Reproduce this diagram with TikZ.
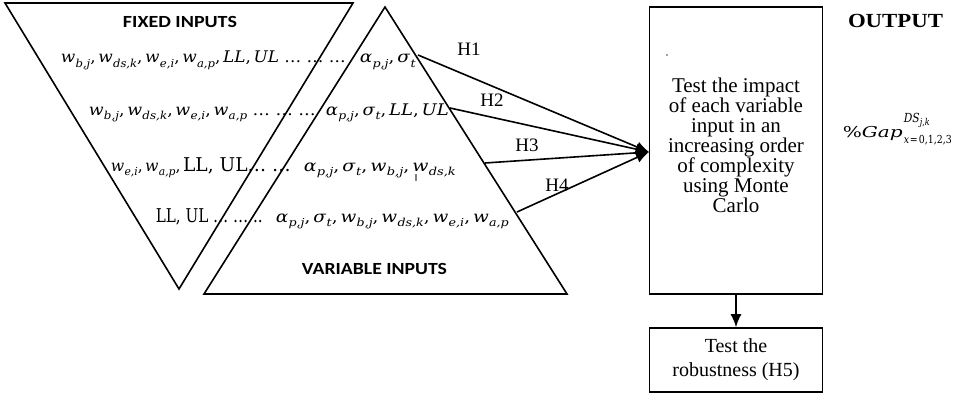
\documentclass[tikz,border=0pt]{standalone}
\usepackage{fontspec}
\setmainfont{Liberation Serif}
\newfontfamily\carlito{Carlito}
\newfontfamily\camfont{DejaVu Serif}
\usetikzlibrary{arrows.meta}
\newcommand\fitw[2]{\resizebox{#1}{\height}{#2}}
\newcommand\ws[2]{\textit{#1}\kern0.3pt\raisebox{-4.5pt}{\fontsize{11}{11}\selectfont\textit{#2}}}
\newcommand\sepc{,\kern2.5pt}
\newcommand\upr[1]{{\fontsize{19}{19}\selectfont #1}}
\begin{document}
\begin{tikzpicture}[x=1pt,y=-1pt, line width=1.6pt, line join=miter,
  mathline/.style={font=\camfont\fontsize{16}{18}\selectfont, inner sep=0pt, anchor=base west},
  hlab/.style={font=\fontsize{19}{20}\selectfont, inner sep=0pt},
  head/.style={font=\carlito\bfseries\fontsize{17}{18}\selectfont, inner sep=0pt},
  boxtext/.style={font=\fontsize{21}{20}\selectfont, align=center, inner sep=0pt},
  arr/.style={-{Latex[length=13pt,width=11pt]}}]
\useasboundingbox (0,0) rectangle (972,396);
% triangles
\draw (5,3) -- (353,3) -- (179,289) -- cycle;
\draw (385,7) -- (567,294) -- (204,294) -- cycle;
\node[head] (fixed) at (180,22) {\fitw{114pt}{FIXED INPUTS}};
\node[head] (var) at (374.5,269) {\fitw{145pt}{VARIABLE INPUTS}};
% input lines
\node[mathline] (l1a) at (60,63) {\fitw{285pt}{\ws{w}{b,j}\sepc\ws{w}{ds,k}\sepc\ws{w}{e,i}\sepc\ws{w}{a,p}\sepc\textit{LL}\sepc\textit{UL} … … …}};
\node[mathline] (l1b) at (359,63) {\fitw{56pt}{\ws{α}{p,j}\sepc\ws{σ}{t}}};
\node[mathline] (l2a) at (88,115) {\fitw{227pt}{\ws{w}{b,j}\sepc\ws{w}{ds,k}\sepc\ws{w}{e,i}\sepc\ws{w}{a,p} … … …}};
\node[mathline] (l2b) at (325,115) {\fitw{123pt}{\ws{α}{p,j}\sepc\ws{σ}{t}\sepc\textit{LL}\sepc\textit{UL}}};
\node[mathline] (l3a) at (110,171) {\fitw{180pt}{\ws{w}{e,i}\sepc\ws{w}{a,p}\sepc\upr{LL, UL… …}}};
\node[mathline] (l3b) at (303,171) {\fitw{152pt}{\ws{α}{p,j}\sepc\ws{σ}{t}\sepc\ws{w}{b,j}\sepc\ws{w}{ds,k}}};
\node[mathline] (l4a) at (155,222) {\fitw{107pt}{\upr{LL, UL … … ..}}};
\node[mathline] (l4b) at (275,222) {\fitw{233pt}{\ws{α}{p,j}\sepc\ws{σ}{t}\sepc\ws{w}{b,j}\sepc\ws{w}{ds,k}\sepc\ws{w}{e,i}\sepc\ws{w}{a,p}}};
\fill[gray] (415.2,174) rectangle (416.8,181);
% output boxes
\node[draw, minimum width=173pt, minimum height=287pt, inner sep=0pt] (box1) at (736,150.5) {};
\node[boxtext] (box1txt) at (736,145) {Test the impact\\of each variable\\input in an\\increasing order\\of complexity\\using Monte\\Carlo};
\fill[gray] (667,55) circle (1.1pt);
\node[draw, minimum width=173pt, minimum height=64pt, inner sep=0pt, boxtext, font=\fontsize{20}{20}\selectfont] (box2) at (736,360) {Test the\\[4pt]robustness (H5)};
\draw[arr] (box1.south) -- (box2.north);
% hypothesis arrows
\coordinate (tip) at (649,152);
\coordinate (s1) at (418,55);
\coordinate (s2) at (450,108);
\coordinate (s3) at (485,163);
\coordinate (s4) at (517,212);
\draw[arr] (s1) -- (tip);
\draw[arr] (s2) -- (tip);
\draw[arr] (s3) -- (tip);
\draw[arr] (s4) -- (tip);
\node[hlab] (h1) at (469,49) {H1};
\node[hlab] (h2) at (492,100) {H2};
\node[hlab] (h3) at (527,145) {H3};
\node[hlab] (h4) at (557,185) {H4};
% output labels
\node[font=\bfseries\fontsize{20}{22}\selectfont, inner sep=0pt] (out) at (895.5,21) {\fitw{95pt}{OUTPUT}};
\node[font=\camfont\fontsize{15}{15}\selectfont, inner sep=0pt, anchor=base west] (gap) at (842,137) {\fitw{60pt}{\%\textit{Gap}}\kern1pt\rlap{\raisebox{15pt}{\fitw{26pt}{\fontsize{12.5}{12}\selectfont\textit{DS}\raisebox{-3pt}{\fontsize{9.5}{9}\selectfont\textit{j,k}}}}}\raisebox{-6pt}{\fitw{48pt}{\fontsize{11}{11}\selectfont\textit{x}\kern1pt=\kern1pt0,1,2,3}}};
\end{tikzpicture}
\end{document}
